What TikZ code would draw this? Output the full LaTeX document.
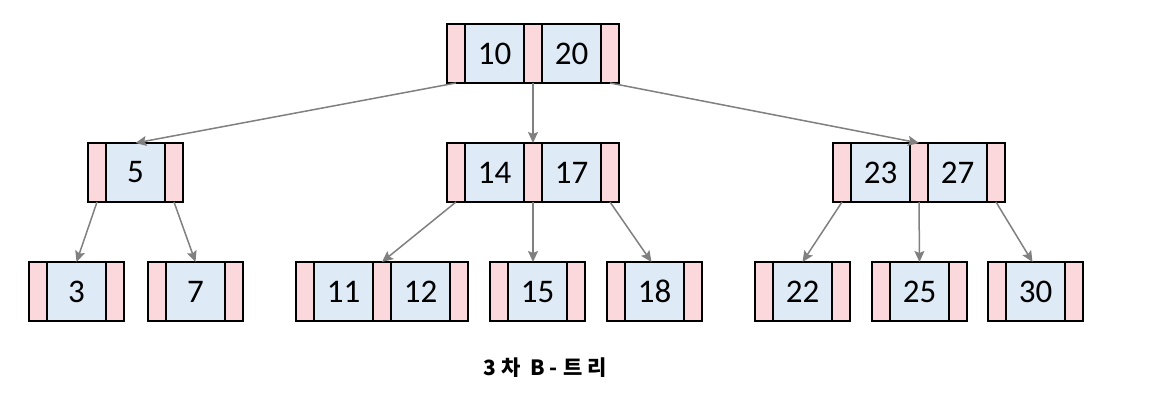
\documentclass[tikz,border=0pt]{standalone}
\usepackage{fontspec}
\usetikzlibrary{arrows.meta}
\newfontfamily\keyfont{Carlito}
\newfontfamily\krfont[LetterSpace=24]{Noto Sans CJK KR}
\definecolor{ptrpink}{HTML}{FBD8DC}
\definecolor{keyblue}{HTML}{DEEAF6}
\definecolor{arrgray}{HTML}{808080}
\tikzset{
  ptr/.style={draw=black, line width=1.8pt, fill=ptrpink, minimum width=18pt,
    minimum height=59pt, inner sep=0pt, outer sep=0pt},
  keycell/.style={ptr, fill=keyblue, minimum width=59pt, font=\keyfont\fontsize{33}{38}\selectfont},
  link/.style={draw=arrgray, line width=1.5pt, -{Stealth[length=11pt,width=10pt,inset=2pt]}},
}
\newcommand\BOne[4]{%
  \node[ptr, anchor=north west] (#1p0) at (#2,#3) {};
  \node[keycell, anchor=west] (#1k1) at (#1p0.east) {#4};
  \node[ptr, anchor=west] (#1p1) at (#1k1.east) {};
}
\newcommand\BTwo[5]{%
  \node[ptr, anchor=north west] (#1p0) at (#2,#3) {};
  \node[keycell, anchor=west] (#1k1) at (#1p0.east) {#4};
  \node[ptr, anchor=west] (#1p1) at (#1k1.east) {};
  \node[keycell, anchor=west] (#1k2) at (#1p1.east) {#5};
  \node[ptr, anchor=west] (#1p2) at (#1k2.east) {};
}
\begin{document}
\begin{tikzpicture}[x=1pt,y=-1pt]
\useasboundingbox[fill=white] (0,0) rectangle (1172,404);
% root
\BTwo{r}{447}{24}{10}{20}
% level 2
\BOne{a}{88}{143}{5}
\BTwo{b}{447}{143}{14}{17}
\BTwo{c}{833}{143}{23}{27}
% leaves
\BOne{la}{29}{262}{3}
\BOne{lb}{148}{262}{7}
\BTwo{lc}{296}{262}{11}{12}
\BOne{ld}{490}{262}{15}
\BOne{le}{607}{262}{18}
\BOne{lf}{755}{262}{22}
\BOne{lg}{872}{262}{25}
\BOne{lh}{988}{262}{30}
% links
\draw[link] (rp0.south) -- (ak1.north);
\draw[link] (rp1.south) -- (bp1.north);
\draw[link] (rp2.south) -- (cp1.north);
\draw[link] (ap0.south) -- (lak1.north);
\draw[link] (ap1.south) -- (lbk1.north);
\draw[link] (bp0.south) -- (lcp1.north);
\draw[link] (bp1.south) -- (bp1.south |- ldk1.north);
\draw[link] (bp2.south) -- ([xshift=-3pt]lek1.north);
\draw[link] (cp0.south) -- (lfk1.north);
\draw[link] (cp1.south) -- (lgk1.north);
\draw[link] (cp2.south) -- ([xshift=-3pt]lhk1.north);
% caption
\node[font=\krfont\bfseries\fontsize{21}{24}\selectfont, anchor=center] (cap) at (545,368) {3차 B-트리};
\end{tikzpicture}
\end{document}
